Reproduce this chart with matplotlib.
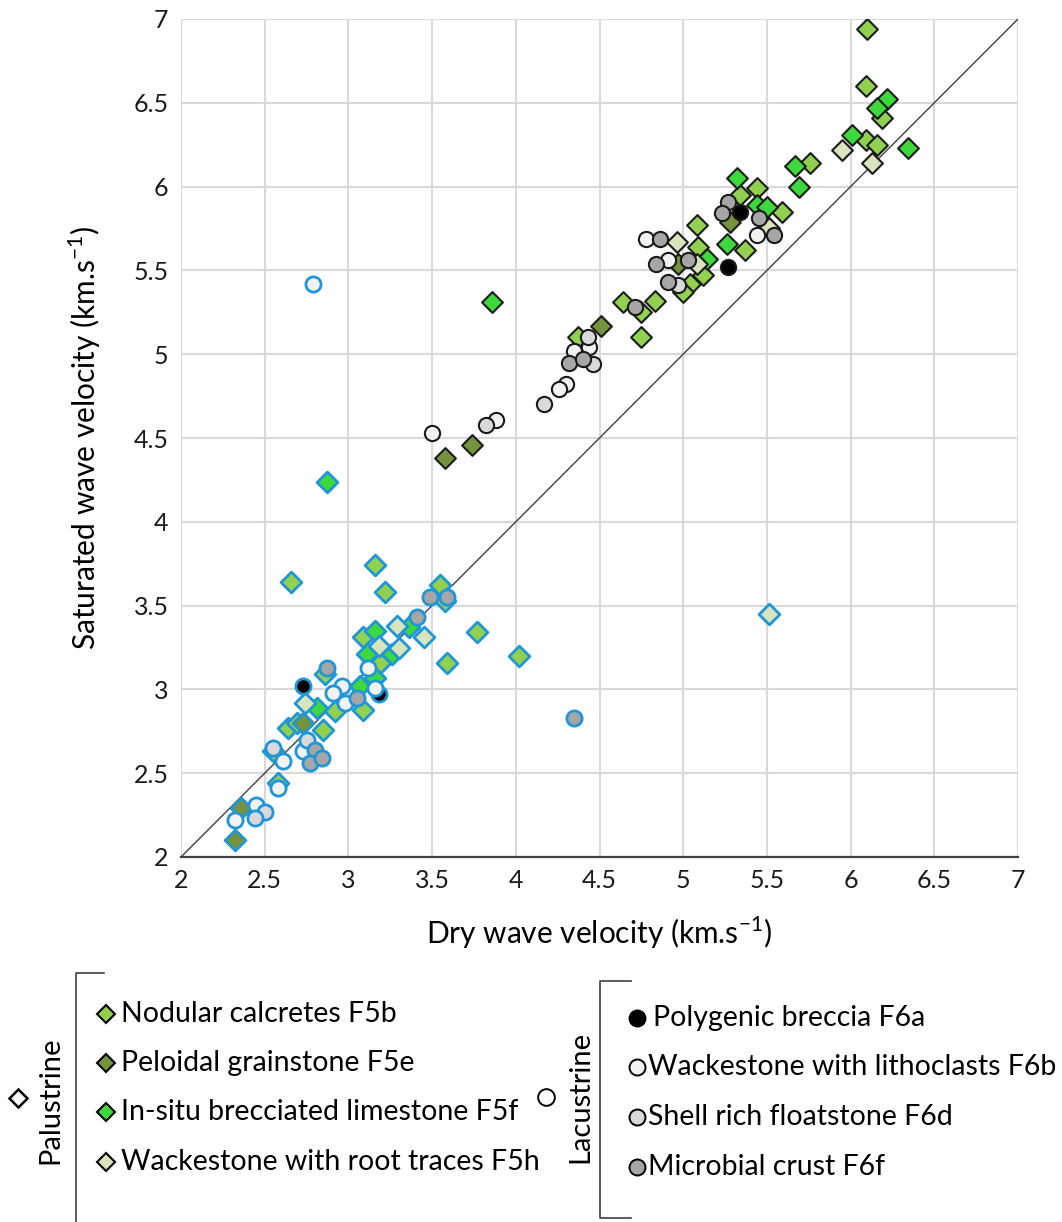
'''
Saturated vs dry wave velocity for palustrine and lacustrine facies.
'''

import matplotlib.pyplot as plt
from matplotlib.lines import Line2D

plt.rcParams['font.family'] = ['Lato', 'DejaVu Sans']

# Data: dry / saturated velocities (km/s), per facies.
# "_b" = black-edged samples, "_u" = blue-edged samples

# Nodular calcretes F5b
f5b_dry_b = [6.10, 6.09, 6.19, 6.09, 6.16, 5.76, 5.44, 5.34, 5.59, 5.08, 5.09, 5.37,
             5.12, 5.04, 5.00, 4.64, 4.83, 4.75, 4.75, 4.37]
f5b_sat_b = [6.94, 6.60, 6.41, 6.28, 6.25, 6.14, 5.99, 5.95, 5.85, 5.77, 5.64, 5.62,
             5.47, 5.42, 5.37, 5.31, 5.32, 5.25, 5.10, 5.10]
f5b_dry_u = [2.66, 3.16, 3.22, 3.55, 3.58, 3.77, 3.09, 3.19, 3.59, 3.09, 2.92, 2.64,
             2.69, 2.85, 2.55, 2.58, 4.02, 2.86]
f5b_sat_u = [3.64, 3.74, 3.58, 3.62, 3.53, 3.34, 3.31, 3.16, 3.16, 2.88, 2.87, 2.77,
             2.80, 2.76, 2.63, 2.44, 3.20, 3.09]

# Peloidal grainstone F5e
f5e_dry_b = [3.58, 3.74, 4.51, 5.28, 4.97]
f5e_sat_b = [4.38, 4.46, 5.17, 5.79, 5.54]
f5e_dry_u = [2.73, 2.36, 2.32]
f5e_sat_u = [2.80, 2.29, 2.10]

# In-situ brecciated limestone F5f
f5f_dry_b = [3.86, 6.22, 6.16, 6.01, 6.34, 5.67, 5.69, 5.32, 5.44, 5.50, 5.26, 5.14]
f5f_sat_b = [5.31, 6.52, 6.47, 6.31, 6.23, 6.12, 6.00, 6.05, 5.89, 5.88, 5.66, 5.57]
f5f_dry_u = [2.87, 3.16, 3.36, 3.11, 3.26, 3.16, 2.81, 3.07]
f5f_sat_u = [4.24, 3.35, 3.37, 3.21, 3.21, 3.07, 2.89, 3.02]

# Wackestone with root traces F5h
f5h_dry_b = [5.95, 6.13, 4.96, 5.08, 5.51]
f5h_sat_b = [6.22, 6.14, 5.67, 5.54, 5.75]
f5h_dry_u = [3.29, 3.45, 3.18, 3.30, 2.74, 5.51]
f5h_sat_u = [3.38, 3.31, 3.26, 3.25, 2.92, 3.45]

# Polygenic breccia F6a
f6a_dry_b = [5.34, 5.27]
f6a_sat_b = [5.85, 5.52]
f6a_dry_u = [2.73, 3.18]
f6a_sat_u = [3.02, 2.97]

# Wackestone with lithoclasts F6b
f6b_dry_b = [3.50, 3.88, 4.30, 4.26, 4.35, 4.44, 4.78, 4.91, 5.44]
f6b_sat_b = [4.53, 4.61, 4.82, 4.79, 5.02, 5.04, 5.69, 5.56, 5.71]
f6b_dry_u = [2.79, 3.12, 3.16, 2.96, 2.91, 2.98, 2.73, 2.61, 2.58, 2.45, 2.32]
f6b_sat_u = [5.42, 3.13, 3.01, 3.02, 2.98, 2.92, 2.63, 2.57, 2.41, 2.31, 2.22]

# Shell rich floatstone F6d
f6d_dry_b = [3.82, 4.17, 4.43, 4.46, 4.97]
f6d_sat_b = [4.58, 4.70, 5.10, 4.94, 5.41]
f6d_dry_u = [2.75, 2.55, 2.50, 2.44]
f6d_sat_u = [2.70, 2.65, 2.27, 2.23]

# Microbial crust F6f
f6f_dry_b = [4.32, 4.40, 4.71, 4.86, 4.84, 5.03, 4.91, 5.27, 5.23, 5.45, 5.54]
f6f_sat_b = [4.95, 4.97, 5.28, 5.69, 5.54, 5.56, 5.43, 5.91, 5.84, 5.81, 5.71]
f6f_dry_u = [3.49, 3.59, 3.41, 2.87, 3.05, 2.80, 2.77, 2.84, 4.35]
f6f_sat_u = [3.55, 3.55, 3.43, 3.13, 2.95, 2.64, 2.56, 2.59, 2.83]

palustrine_labels = ["Nodular calcretes F5b", "Peloidal grainstone F5e",
                     "In-situ brecciated limestone F5f", "Wackestone with root traces F5h"]
lacustrine_labels = ["Polygenic breccia F6a", "Wackestone with lithoclasts F6b",
                     "Shell rich floatstone F6d", "Microbial crust F6f"]

tick_values = [2, 2.5, 3, 3.5, 4, 4.5, 5, 5.5, 6, 6.5, 7]
tick_labels = ["2", "2.5", "3", "3.5", "4", "4.5", "5", "5.5", "6", "6.5", "7"]
identity_line = [2, 7]

# Styles
W, H = 1062, 1222
palustrine_colors = ["#92d050", "#76923c", "#3cd83c", "#d7e4bd"]
lacustrine_colors = ["#000000", "#f2f2f2", "#d9d9d9", "#a6a6a6"]
blue_edge = "#1f96d8"
black_edge = "#1a1a1a"


def fig_xy(px, py):
    # pixel position in the figure -> figure fraction
    return px / W, 1 - py / H


fig = plt.figure(figsize=(W / 100, H / 100), dpi=100)
ax = fig.add_axes([181 / W, 1 - 857 / H, (1018 - 181) / W, (857 - 19) / H])

ax.plot(identity_line, identity_line, color="#404040", lw=1.0, zorder=2)

diamond_sets = [
    (f5b_dry_b, f5b_sat_b, f5b_dry_u, f5b_sat_u),
    (f5e_dry_b, f5e_sat_b, f5e_dry_u, f5e_sat_u),
    (f5f_dry_b, f5f_sat_b, f5f_dry_u, f5f_sat_u),
    (f5h_dry_b, f5h_sat_b, f5h_dry_u, f5h_sat_u),
]
circle_sets = [
    (f6a_dry_b, f6a_sat_b, f6a_dry_u, f6a_sat_u),
    (f6b_dry_b, f6b_sat_b, f6b_dry_u, f6b_sat_u),
    (f6d_dry_b, f6d_sat_b, f6d_dry_u, f6d_sat_u),
    (f6f_dry_b, f6f_sat_b, f6f_dry_u, f6f_sat_u),
]

for (xb, yb, xu, yu), col in zip(diamond_sets, palustrine_colors):
    ax.scatter(xu, yu, marker="D", s=112, c=col, edgecolors=blue_edge, linewidths=2.0, zorder=3)
    ax.scatter(xb, yb, marker="D", s=112, c=col, edgecolors=black_edge, linewidths=1.5, zorder=3)

for (xb, yb, xu, yu), col in zip(circle_sets, lacustrine_colors):
    ax.scatter(xu, yu, marker="o", s=120, c=col, edgecolors=blue_edge, linewidths=2.0, zorder=4)
    ax.scatter(xb, yb, marker="o", s=120, c=col, edgecolors=black_edge, linewidths=1.5, zorder=4)

ax.set_xlim(2, 7)
ax.set_ylim(2, 7)
ax.set_xticks(tick_values, tick_labels)
ax.set_yticks(tick_values, tick_labels)
ax.tick_params(length=0, labelsize=18, pad=9, labelcolor="#1a1a1a")
ax.grid(color="#d9d9d9", linewidth=1.5)
ax.set_axisbelow(True)
for side in ["top", "right", "left"]:
    ax.spines[side].set_visible(False)
ax.spines["bottom"].set_color("#404040")
ax.spines["bottom"].set_linewidth(1.6)

ax.set_xlabel("Dry wave velocity (km.s$^{\\mathregular{-1}}$)", fontsize=21.5, labelpad=16)
ax.set_ylabel("Saturated wave velocity (km.s$^{\\mathregular{-1}}$)", fontsize=21.5, labelpad=22)

# Legend, drawn by hand as in the original
bracket = dict(color="#404040", lw=1.2, transform=fig.transFigure)
fig.add_artist(Line2D(*zip(fig_xy(104, 973), fig_xy(76, 973), fig_xy(76, 1222)), **bracket))
fig.add_artist(Line2D(*zip(fig_xy(631, 981), fig_xy(600, 981), fig_xy(600, 1218),
                           fig_xy(631, 1218)), **bracket))

fig.text(*fig_xy(50, 1100), "Palustrine", rotation=90, ha="center", va="center", fontsize=21)
fig.text(*fig_xy(580, 1097), "Lacustrine", rotation=90, ha="center", va="center", fontsize=21)
fig.add_artist(Line2D(*zip(fig_xy(18, 1098)), marker="D", ms=9, mfc="white", mec="black",
                      mew=1.8, transform=fig.transFigure))
fig.add_artist(Line2D(*zip(fig_xy(546, 1097)), marker="o", ms=12, mfc="white", mec="black",
                      mew=1.4, transform=fig.transFigure))

pal_rows = [1014, 1063, 1112, 1162]
for py, lab, col in zip(pal_rows, palustrine_labels, palustrine_colors):
    fig.add_artist(Line2D(*zip(fig_xy(106, py)), marker="D", ms=9, mfc=col, mec="black",
                          mew=1.5, transform=fig.transFigure))
    fig.text(*fig_xy(121, py), lab, ha="left", va="center", fontsize=20.5)

lac_rows = [1018, 1067, 1117, 1167]
for py, lab, col in zip(lac_rows, lacustrine_labels, lacustrine_colors):
    fig.add_artist(Line2D(*zip(fig_xy(637, py)), marker="o", ms=11.5, mfc=col, mec="black",
                          mew=1.4, transform=fig.transFigure))
    fig.text(*fig_xy(648 if col != "#000000" else 653, py), lab, ha="left", va="center",
             fontsize=20.5)

fig.savefig("out.png", dpi=100)
